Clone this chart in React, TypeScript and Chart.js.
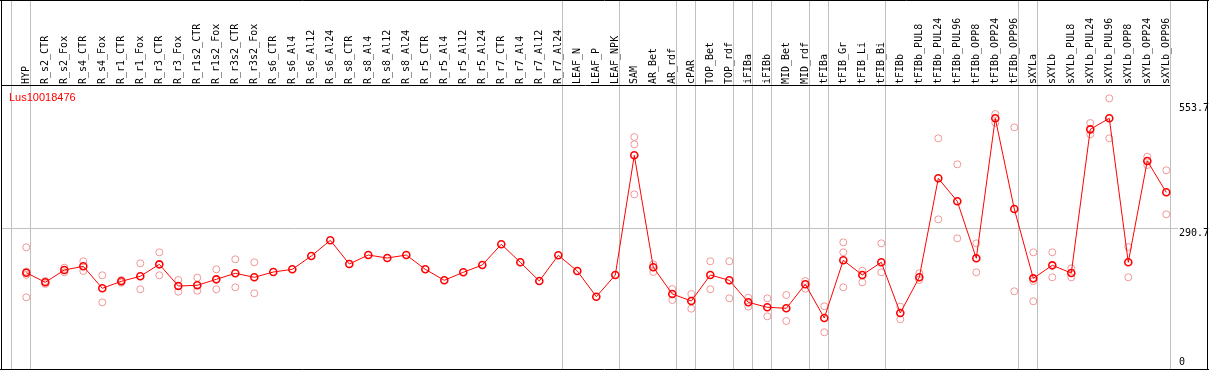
import React, { useEffect, useRef } from "react";
import { Chart, registerables } from "chart.js";

Chart.register(...registerables);

const title = "Lus10018476";

const categories = [
  "HYP", "R_s2_CTR", "R_s2_Fox", "R_s4_CTR", "R_s4_Fox", "R_r1_CTR", "R_r1_Fox", "R_r3_CTR", "R_r3_Fox",
  "R_r1s2_CTR", "R_r1s2_Fox", "R_r3s2_CTR", "R_r3s2_Fox", "R_s6_CTR", "R_s6_Al4", "R_s6_Al12", "R_s6_Al24",
  "R_s8_CTR", "R_s8_Al4", "R_s8_Al12", "R_s8_Al24", "R_r5_CTR", "R_r5_Al4", "R_r5_Al12", "R_r5_Al24",
  "R_r7_CTR", "R_r7_Al4", "R_r7_Al12", "R_r7_Al24", "LEAF_N", "LEAF_P", "LEAF_NPK", "SAM", "AR_Bet", "AR_rdf",
  "cPAR", "TOP_Bet", "TOP_rdf", "iFIBa", "iFIBb", "MID_Bet", "MID_rdf", "tFIBa", "tFIB_Gr", "tFIB_Li", "tFIB_Bi",
  "tFIBb", "tFIBb_PUL8", "tFIBb_PUL24", "tFIBb_PUL96", "tFIBb_OPP8", "tFIBb_OPP24", "tFIBb_OPP96",
  "sXYLa", "sXYLb", "sXYLb_PUL8", "sXYLb_PUL24", "sXYLb_PUL96", "sXYLb_OPP8", "sXYLb_OPP24", "sXYLb_OPP96",
];

const means = [
  196.5, 176.3, 202.2, 210.0, 163.7, 178.4, 189.0, 214.2, 168.5, 170.0, 182.6, 195.3, 186.9, 198.0, 203.7,
  231.7, 264.8, 214.9, 233.8, 227.5, 233.8, 203.7, 180.5, 197.4, 212.8, 256.4, 218.5, 179.1, 233.2, 200.1,
  146.0, 191.7, 443.9, 207.9, 151.7, 136.9, 191.7, 180.5, 134.2, 123.7, 121.6, 172.1, 101.1, 222.7, 191.7,
  218.5, 111.6, 186.9, 395.4, 347.0, 226.9, 521.8, 330.7, 184.7, 212.1, 195.9, 498.6, 521.8, 218.5, 431.9, 365.9,
];

const replicates: number[][] = [
  [250.1, 199.0, 192.0, 144.7], [179.1, 172.7], [207.1, 197.4], [220.6, 200.1], [191.1, 134.2], [181.2, 175.5],
  [216.3, 161.6], [239.5, 191.1], [181.2, 156.5], [186.0, 158.6], [203.7, 161.6], [224.8, 165.8], [218.5, 153.1],
  [], [], [], [], [], [], [], [], [], [], [], [], [], [], [], [], [], [], [],
  [482.4, 467.0, 361.7], [214.2, 198.0], [162.2, 139.0], [151.7, 120.7], [220.6, 161.6], [220.6, 142.6],
  [143.9, 124.9], [142.6, 104.7], [149.6, 94.8], [179.1, 162.8], [125.8, 71.0], [260.6, 239.5, 165.8],
  [200.8, 176.3], [258.5, 197.4], [124.9, 98.4], [195.3, 181.2], [479.7, 309.0], [424.9, 269.0],
  [258.5, 197.4], [530.9, 512.5], [502.8, 157.4], [239.5, 179.1, 136.3], [239.5, 186.9], [205.8, 186.9],
  [511.9, 488.1], [563.9, 479.7], [250.7, 186.9], [440.9, 423.4], [412.3, 319.6],
];

const yTickLabels = [553.7, 290.7, 0];
const gridValue = 290.7;
const separatorsAfter = [-1, 0, 28, 31, 34, 35, 37, 38, 39, 41, 42, 45, 52, 53, 60];

const decorPlugin = {
  id: "decor",
  beforeDatasetsDraw(chart: any) {
    const { ctx, scales, width, height, chartArea } = chart;
    const xs = scales.x;
    const ys = scales.y;
    ctx.save();
    // gray separators
    ctx.strokeStyle = "#c0c0c0";
    ctx.lineWidth = 1;
    separatorsAfter.forEach((i) => {
      const px = Math.floor(xs.getPixelForValue(i + 0.2)) + 0.5;
      ctx.beginPath();
      ctx.moveTo(px, 0);
      ctx.lineTo(px, chartArea.bottom);
      ctx.stroke();
    });
    // horizontal grid line
    const gy = Math.round(ys.getPixelForValue(gridValue)) + 0.5;
    ctx.beginPath();
    ctx.moveTo(chartArea.left, gy);
    ctx.lineTo(1178, gy);
    ctx.stroke();
    // black frame
    ctx.strokeStyle = "#000000";
    ctx.beginPath();
    ctx.moveTo(0, 0.5);
    ctx.lineTo(width, 0.5);
    ctx.moveTo(1.5, 0);
    ctx.lineTo(1.5, height);
    ctx.moveTo(0, chartArea.bottom + 0.5);
    ctx.lineTo(width, chartArea.bottom + 0.5);
    ctx.moveTo(width - 1.5, 0);
    ctx.lineTo(width - 1.5, height);
    ctx.moveTo(1, 85.5);
    ctx.lineTo(1170, 85.5);
    ctx.stroke();
    // category labels
    ctx.fillStyle = "#000000";
    ctx.font = "10px 'DejaVu Sans Mono'";
    ctx.textAlign = "left";
    ctx.textBaseline = "middle";
    categories.forEach((c, i) => {
      const px = xs.getPixelForValue(i);
      ctx.save();
      ctx.translate(px, 84);
      ctx.rotate(-Math.PI / 2);
      ctx.fillText(c, 0, 0.5);
      ctx.restore();
    });
    // title
    ctx.fillStyle = "#ff0000";
    ctx.font = "11px 'Liberation Sans'";
    ctx.textBaseline = "alphabetic";
    ctx.fillText(title, 9, 101);
    // right value labels
    ctx.fillStyle = "#000000";
    ctx.font = "10px 'DejaVu Sans Mono'";
    yTickLabels.forEach((v) => {
      const py = ys.getPixelForValue(v);
      ctx.fillText(String(v), 1179, Math.min(py + 8, 365));
    });
    ctx.restore();
  },
};

export default function App() {
  const ref = useRef<HTMLCanvasElement | null>(null);
  useEffect(() => {
    document.body.style.margin = "0";
    const canvas = ref.current;
    if (!canvas) return;
    const repPoints: { x: number; y: number }[] = [];
    replicates.forEach((arr, i) => arr.forEach((v) => repPoints.push({ x: i, y: v })));
    const meanPoints = means.map((v, i) => ({ x: i, y: v }));
    const chart = new Chart(canvas, {
      type: "scatter",
      data: {
        datasets: [
          {
            type: "line",
            data: meanPoints,
            borderColor: "#ff0000",
            borderWidth: 1,
            pointRadius: 3.5,
            pointBorderWidth: 1.6,
            pointBorderColor: "#ff0000",
            pointBackgroundColor: "rgba(0,0,0,0)",
            showLine: true,
            tension: 0,
          } as any,
          {
            data: repPoints,
            borderColor: "rgb(240,150,150)",
            backgroundColor: "rgba(0,0,0,0)",
            pointRadius: 3.5,
            pointBorderWidth: 1,
            showLine: false,
          },
        ],
      },
      options: {
        animation: false,
        responsive: false,
        maintainAspectRatio: false,
        layout: { autoPadding: false, padding: { left: 1, right: 1, top: 86, bottom: 1 } },
        plugins: { legend: { display: false }, tooltip: { enabled: false }, title: { display: false } },
        events: [],
        scales: {
          x: { type: "linear", display: false, min: -1.3316, max: 62.195 },
          y: { type: "linear", display: false, min: -6.32, max: 589.9 },
        },
      },
      plugins: [decorPlugin],
    });
    return () => chart.destroy();
  }, []);
  return <canvas ref={ref} width={1209} height={370} style={{ display: "block" }} />;
}
